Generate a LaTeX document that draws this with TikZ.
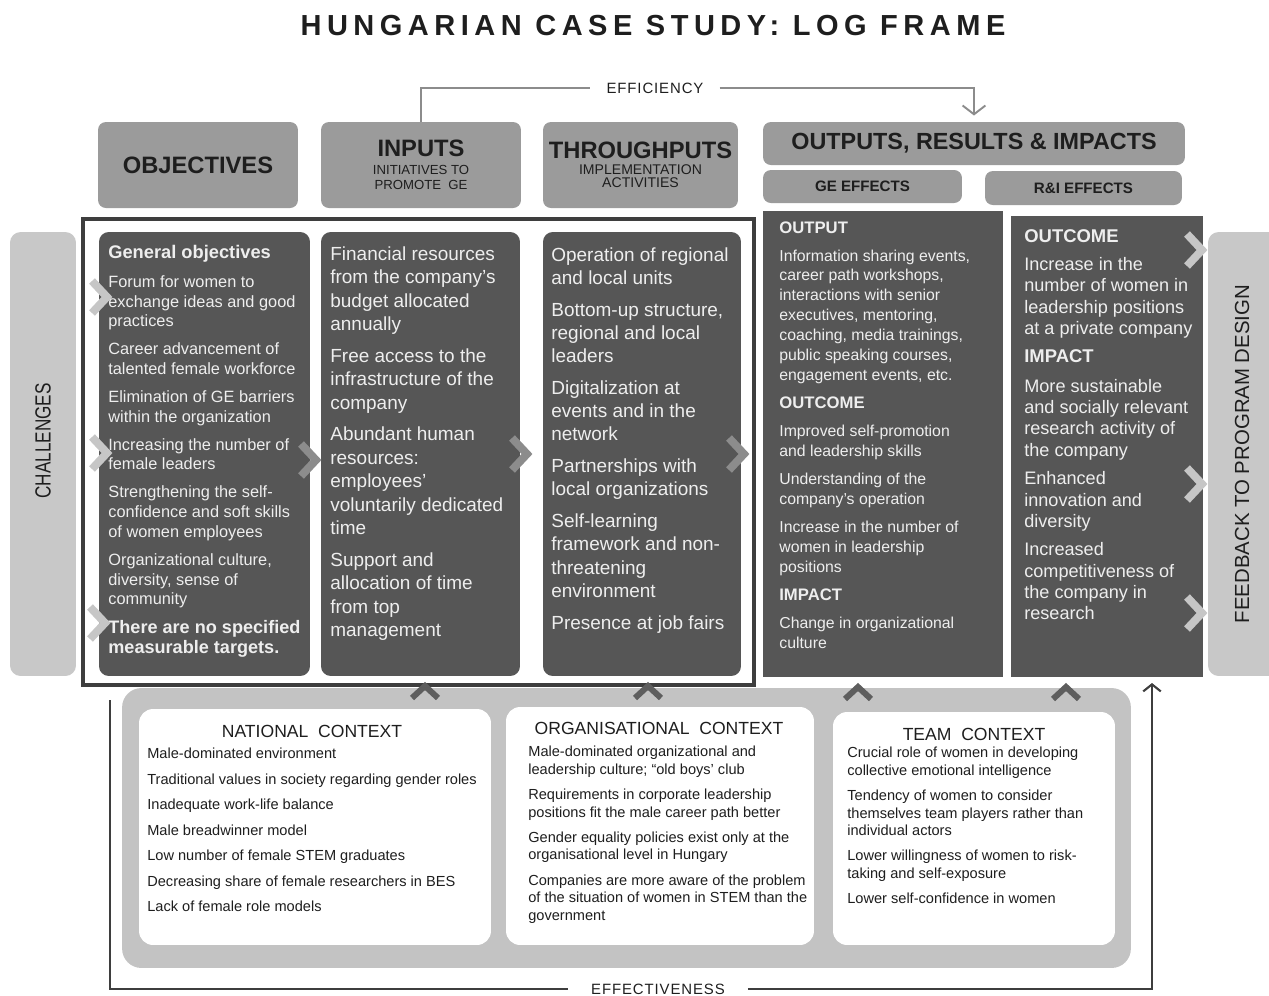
\documentclass[tikz,border=0pt]{standalone}
\usepackage{fontspec}
\setmainfont{Liberation Sans}
\newfontfamily\spacedfont[LetterSpace=19]{Liberation Sans}
\newfontfamily\linefont[LetterSpace=6]{Liberation Sans}
\newfontfamily\narrowfont[FakeStretch=0.78]{Liberation Sans}
\usepackage{tikz}
\usetikzlibrary{positioning, arrows.meta}
\definecolor{hdrgrey}{HTML}{9B9B9B}
\definecolor{colgrey}{HTML}{565656}
\definecolor{sidegrey}{HTML}{C8C8C8}
\definecolor{bandgrey}{HTML}{C3C3C3}
\definecolor{chevlight}{HTML}{C6C6C6}
\definecolor{chevmid}{HTML}{8C8C8C}
\definecolor{framegrey}{HTML}{3E3E3E}
\definecolor{txtdark}{HTML}{1E1E1E}
\definecolor{txtlight}{HTML}{EEEEEE}

\begin{document}
\begin{tikzpicture}[x=0.02cm, y=-0.02cm,
    hdr/.style={fill=hdrgrey, rounded corners=4.5pt, text=txtdark, align=center, inner sep=0pt},
    col/.style={fill=colgrey, rounded corners=5.5pt, inner sep=0pt},
    res/.style={fill=colgrey, inner sep=0pt},
    side/.style={fill=sidegrey, rounded corners=6pt, inner sep=0pt},
    ctxbox/.style={fill=white, rounded corners=8pt, inner sep=0pt},
    coltxt/.style={anchor=north west, align=left, inner sep=0pt, text=txtlight},
    ctxtxt/.style={anchor=north west, align=left, inner sep=0pt, text=txtdark,
                   font=\fontsize{8.3}{10}\selectfont},
    ctxtitle/.style={inner sep=0pt, text=txtdark, font=\fontsize{10}{12}\selectfont},
    chev/.style={line width=4.5pt, line join=miter},
    upchev/.style={line width=3.4pt, draw=colgrey!95!white},
    effline/.style={draw=chevmid, line width=1.1pt},
    effdark/.style={draw=framegrey, line width=1.2pt},
    lbl/.style={text=txtdark, font=\linefont\fontsize{8.5}{10}\selectfont, inner ysep=0pt}]
  \useasboundingbox (0,0) rectangle (1269,995);

  \node[text=txtdark, font=\spacedfont\bfseries\fontsize{16.5}{18}\selectfont] (title) at (653,26) {HUNGARIAN CASE STUDY: LOG FRAME};

  % header row
  \node[hdr, minimum width=4cm, minimum height=1.72cm, font=\bfseries\fontsize{13.5}{15}\selectfont] (objH) at (198,165) {OBJECTIVES};
  \node[hdr, minimum width=4cm, minimum height=1.72cm, font=\fontsize{7.5}{9}\selectfont] (inpH) at (421,165)
    {{\bfseries\fontsize{13.5}{14}\selectfont INPUTS}\\[1pt]
     INITIATIVES TO\\ PROMOTE\ \ GE};
  \node[hdr, minimum width=3.9cm, minimum height=1.72cm, font=\fontsize{8}{7.8}\selectfont] (thrH) at (640.5,165)
    {{\bfseries\fontsize{13.5}{14}\selectfont THROUGHPUTS}\\[1pt]
     IMPLEMENTATION\\ ACTIVITIES};
  \node[hdr, minimum width=8.44cm, minimum height=0.86cm, font=\bfseries\fontsize{13.3}{14}\selectfont] (outH) at (974,143.5) {OUTPUTS, RESULTS \& IMPACTS};
  \node[hdr, minimum width=3.98cm, minimum height=0.66cm, font=\bfseries\fontsize{8.6}{11}\selectfont] (geH) at (862.5,186.5) {GE EFFECTS};
  \node[hdr, minimum width=3.94cm, minimum height=0.68cm, font=\bfseries\fontsize{8.6}{11}\selectfont] (riH) at (1083.5,188) {R\&I EFFECTS};

  \node[lbl, inner xsep=9pt] (eff) at (655,88) {EFFICIENCY};
  \draw[effline] (inpH.north) |- (eff.west);
  \draw[effline, -{Straight Barb[length=5pt,width=13pt]}, shorten >=3.5pt] (eff.east) -| (outH.north);

  % columns
  \node[side, minimum width=1.32cm, minimum height=8.88cm] (chal) at (43,454) {};
  \node[side, minimum width=1.44cm, minimum height=8.88cm] (feed) at (1244,454) {};
  \node[rotate=90, text=txtdark, font=\narrowfont\fontsize{12.5}{14}\selectfont] (chaltxt) at (43,441) {CHALLENGES};
  \node[rotate=90, text=txtdark, font=\fontsize{11.6}{13}\selectfont] (feedtxt) at (1242,454) {FEEDBACK TO PROGRAM DESIGN};

  \node[draw=framegrey, line width=2.2pt, minimum width=13.42cm, minimum height=9.32cm, inner sep=0pt] (frame) at (418.5,452) {};
  \node[col, minimum width=4.22cm, minimum height=8.88cm] (objC) at (204.5,454) {};
  \node[col, minimum width=3.98cm, minimum height=8.88cm] (inpC) at (420.5,454) {};
  \node[col, minimum width=3.96cm, minimum height=8.88cm] (thrC) at (642,454) {};
  \node[res, minimum width=4.8cm, minimum height=9.32cm] (geC) at (883,444) {};
  \node[res, minimum width=3.84cm, minimum height=9.22cm] (riC) at (1107,446.5) {};

  \node[coltxt, font=\fontsize{9.3}{11.22}\selectfont] (objtxt) at (108,245)
    {{\bfseries\fontsize{10.4}{11.22}\selectfont General objectives}\\[5.2pt]
     Forum for women to\\ exchange ideas and good\\ practices\\[4.7pt]
     Career advancement of\\ talented female workforce\\[4.7pt]
     Elimination of GE barriers\\ within the organization\\[4.7pt]
     Increasing the number of\\ female leaders\\[4.7pt]
     Strengthening the self-\\ confidence and soft skills\\ of women employees\\[4.7pt]
     Organizational culture,\\ diversity, sense of\\ community\\[5.4pt]
     {\bfseries\fontsize{10.3}{12}\selectfont There are no specified}\\
     {\bfseries\fontsize{10.3}{12}\selectfont measurable targets.}};
  \node[coltxt, font=\fontsize{10.8}{13.4}\selectfont] (inptxt) at (330,246)
    {Financial resources\\ from the company’s\\ budget allocated\\ annually\\[4.5pt]
     Free access to the\\ infrastructure of the\\ company\\[4.5pt]
     Abundant human\\ resources:\\ employees’\\ voluntarily dedicated\\ time\\[4.5pt]
     Support and\\ allocation of time\\ from top\\ management};
  \node[coltxt, font=\fontsize{10.8}{13.25}\selectfont] (thrtxt) at (551,247)
    {Operation of regional\\ and local units\\[4.8pt]
     Bottom-up structure,\\ regional and local\\ leaders\\[4.8pt]
     Digitalization at\\ events and in the\\ network\\[4.8pt]
     Partnerships with\\ local organizations\\[4.8pt]
     Self-learning\\ framework and non-\\ threatening\\ environment\\[4.8pt]
     Presence at job fairs};
  \node[coltxt, font=\fontsize{9}{11.35}\selectfont] (getxt) at (779,221)
    {{\bfseries\fontsize{9.5}{11.35}\selectfont OUTPUT}\\[4.6pt]
     Information sharing events,\\ career path workshops,\\ interactions with senior\\
     executives, mentoring,\\ coaching, media trainings,\\ public speaking courses,\\
     engagement events, etc.\\[4.6pt]
     {\bfseries\fontsize{9.5}{11.35}\selectfont OUTCOME}\\[4.6pt]
     Improved self-promotion\\ and leadership skills\\[4.6pt]
     Understanding of the\\ company’s operation\\[4.6pt]
     Increase in the number of\\ women in leadership\\ positions\\[4.6pt]
     {\bfseries\fontsize{9.5}{11.35}\selectfont IMPACT}\\[4.8pt]
     Change in organizational\\ culture};
  \node[coltxt, font=\fontsize{10.3}{12.15}\selectfont] (ritxt) at (1024,229)
    {{\bfseries\fontsize{10.5}{12.15}\selectfont OUTCOME}\\[4pt]
     Increase in the\\ number of women in\\ leadership positions\\ at a private company\\[3.5pt]
     {\bfseries\fontsize{10.5}{12.15}\selectfont IMPACT}\\[5pt]
     More sustainable\\ and socially relevant\\ research activity of\\ the company\\[4pt]
     Enhanced\\ innovation and\\ diversity\\[4pt]
     Increased\\ competitiveness of\\ the company in\\ research};

  % context band
  \node[fill=bandgrey, rounded corners=11pt, minimum width=20.18cm, minimum height=5.6cm, inner sep=0pt] (band) at (626.5,828) {};
  \node[ctxbox, minimum width=7.04cm, minimum height=4.72cm] (natB) at (315,827) {};
  \node[ctxbox, minimum width=6.16cm, minimum height=4.76cm] (orgB) at (660,826) {};
  \node[ctxbox, minimum width=5.64cm, minimum height=4.66cm] (teamB) at (974,828.5) {};

  \node[ctxtitle] (natT) at (312,731) {NATIONAL\ \ CONTEXT};
  \node[ctxtitle] (orgT) at (659,728) {ORGANISATIONAL\ \ CONTEXT};
  \node[ctxtitle] (teamT) at (974,734) {TEAM\ \ CONTEXT};

  \node[ctxtxt] (nattxt) at (147,748)
    {Male-dominated environment\\[4.5pt]
     Traditional values in society regarding gender roles\\[4.5pt]
     Inadequate work-life balance\\[4.5pt]
     Male breadwinner model\\[4.5pt]
     Low number of female STEM graduates\\[4.5pt]
     Decreasing share of female researchers in BES\\[4.5pt]
     Lack of female role models};
  \node[ctxtxt] (orgtxt) at (528,746)
    {Male-dominated organizational and\\ leadership culture; “old boys’ club\\[4.3pt]
     Requirements in corporate leadership\\ positions fit the male career path better\\[4.3pt]
     Gender equality policies exist only at the\\ organisational level in Hungary\\[4.5pt]
     Companies are more aware of the problem\\ of the situation of women in STEM than the\\ government};
  \node[ctxtxt] (teamtxt) at (847,747)
    {Crucial role of women in developing\\ collective emotional intelligence\\[4.2pt]
     Tendency of women to consider\\ themselves team players rather than\\ individual actors\\[4.2pt]
     Lower willingness of women to risk-\\ taking and self-exposure\\[4.2pt]
     Lower self-confidence in women};

  % effectiveness loop
  \node[lbl, inner xsep=13pt] (efft) at (658,989) {EFFECTIVENESS};
  \coordinate (effL) at (110,700);
  \coordinate (effR) at (1152,683);
  \draw[effdark] (effL) |- (efft.west);
  \draw[effdark, -{Straight Barb[length=4pt,width=10pt]}] (efft.east) -| (effR);

  % chevrons
  \draw[chev, draw=chevlight] (92,281) -- ++(15,16) -- ++(-15,16);
  \draw[chev, draw=chevlight] (92,437) -- ++(15,16) -- ++(-15,16);
  \draw[chev, draw=chevlight] (90,607) -- ++(15,16) -- ++(-15,16);
  \draw[chev, draw=chevmid] (301,444) -- ++(15,16) -- ++(-15,16);
  \draw[chev, draw=chevmid] (512,438) -- ++(15,16) -- ++(-15,16);
  \draw[chev, draw=chevmid] (729,438) -- ++(15,16) -- ++(-15,16);
  \draw[chev, draw=chevlight] (1187,234) -- ++(15,16) -- ++(-15,16);
  \draw[chev, draw=chevlight] (1187,468) -- ++(15,16) -- ++(-15,16);
  \draw[chev, draw=chevlight] (1187,597) -- ++(15,16) -- ++(-15,16);
  \draw[upchev] (412,698) -- ++(13,-12) -- ++(13,12);
  \draw[upchev] (635,698) -- ++(13,-12) -- ++(13,12);
  \draw[upchev] (845,699) -- ++(13,-12) -- ++(13,12);
  \draw[upchev] (1053,699) -- ++(13,-12) -- ++(13,12);
\end{tikzpicture}
\end{document}
